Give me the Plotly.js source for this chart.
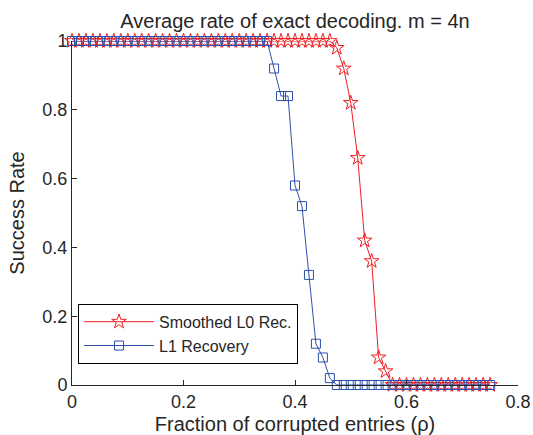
<!DOCTYPE html>
<html>
<head>
<meta charset="utf-8">
<script src="https://cdn.plot.ly/plotly-3.0.1.min.js"></script>
<style>html,body{margin:0;padding:0;background:#fff;}#chart{width:533px;height:435px;}</style>
</head>
<body>
<div id="chart"></div>
<script>
// Fraction of corrupted entries (rho)
var rho = [0, 0.0125, 0.025, 0.0375, 0.05, 0.0625, 0.075, 0.0875, 0.1, 0.1125,
  0.125, 0.1375, 0.15, 0.1625, 0.175, 0.1875, 0.2, 0.2125, 0.225, 0.2375,
  0.25, 0.2625, 0.275, 0.2875, 0.3, 0.3125, 0.325, 0.3375, 0.35, 0.3625,
  0.375, 0.3875, 0.4, 0.4125, 0.425, 0.4375, 0.45, 0.4625, 0.475, 0.4875,
  0.5, 0.5125, 0.525, 0.5375, 0.55, 0.5625, 0.575, 0.5875, 0.6, 0.6125,
  0.625, 0.6375, 0.65, 0.6625, 0.675, 0.6875, 0.7, 0.7125, 0.725, 0.7375, 0.75];

// Smoothed L0 recovery success rate
var smoothedL0 = [1, 1, 1, 1, 1, 1, 1, 1, 1, 1,
  1, 1, 1, 1, 1, 1, 1, 1, 1, 1,
  1, 1, 1, 1, 1, 1, 1, 1, 1, 1,
  1, 1, 1, 1, 1, 1, 1, 1, 0.98, 0.92,
  0.82, 0.66, 0.42, 0.36, 0.08, 0.04, 0, 0, 0, 0,
  0, 0, 0, 0, 0, 0, 0, 0, 0, 0, 0];

// L1 recovery success rate
var l1Recovery = [1, 1, 1, 1, 1, 1, 1, 1, 1, 1,
  1, 1, 1, 1, 1, 1, 1, 1, 1, 1,
  1, 1, 1, 1, 1, 1, 1, 1, 1, 0.92,
  0.84, 0.84, 0.58, 0.52, 0.32, 0.12, 0.08, 0.02, 0, 0,
  0, 0, 0, 0, 0, 0, 0, 0, 0, 0,
  0, 0, 0, 0, 0, 0, 0, 0, 0, 0, 0];

var seriesNames = ["Smoothed L0 Rec.", "L1 Recovery"];
var xTicks = [0, 0.2, 0.4, 0.6, 0.8];
var xTickText = ["0", "0.2", "0.4", "0.6", "0.8"];
var yTicks = [0, 0.2, 0.4, 0.6, 0.8, 1];
var yTickText = ["0", "0.2", "0.4", "0.6", "0.8", "1"];

var RED = "rgb(240,30,35)";
var BLUE = "rgb(45,80,170)";
var FONT = "Liberation Sans, Arial, Helvetica, sans-serif";
var INK = "#262626";

var traces = [
  {
    x: rho, y: smoothedL0, name: seriesNames[0], type: "scatter", mode: "lines+markers",
    cliponaxis: false, legendgroup: "a",
    line: {color: RED, width: 1},
    marker: {symbol: "star-open", size: 11, color: RED, line: {color: RED, width: 1}}
  },
  {
    x: rho, y: l1Recovery, name: seriesNames[1], type: "scatter", mode: "lines+markers",
    cliponaxis: false, legendgroup: "b",
    line: {color: BLUE, width: 1},
    marker: {symbol: "square-open", size: 9, color: BLUE, line: {color: BLUE, width: 1}}
  }
];

var layout = {
  width: 533, height: 435,
  margin: {l: 72, r: 15, t: 41, b: 50, pad: 0},
  paper_bgcolor: "#fff", plot_bgcolor: "#fff",
  font: {family: FONT, color: INK, size: 18},
  showlegend: true,
  title: {
    text: "Average rate of exact decoding. m = 4n",
    font: {family: FONT, size: 20, color: INK},
    xref: "paper", x: 0.5, xanchor: "center",
    yref: "container", y: 0.952, yanchor: "middle"
  },
  xaxis: {
    range: [0, 0.8], tickvals: xTicks, ticktext: xTickText,
    ticks: "inside", ticklen: 5, tickwidth: 1, tickcolor: INK,
    showline: true, linecolor: INK, linewidth: 1, mirror: false,
    showgrid: false, zeroline: false, fixedrange: true,
    tickfont: {family: FONT, size: 18, color: INK},
    title: {text: "Fraction of corrupted entries (\u03c1)", font: {family: FONT, size: 20, color: INK}, standoff: 12}
  },
  yaxis: {
    range: [0, 1], tickvals: yTicks, ticktext: yTickText,
    ticks: "inside", ticklen: 5, tickwidth: 1, tickcolor: INK,
    showline: true, linecolor: INK, linewidth: 1, mirror: false,
    showgrid: false, zeroline: false, fixedrange: true,
    tickfont: {family: FONT, size: 18, color: INK},
    title: {text: "Success Rate", font: {family: FONT, size: 20, color: INK}, standoff: 12}
  },
  legend: {
    x: 0.0135, y: 0.236, xanchor: "left", yanchor: "top",
    bgcolor: "#fff", bordercolor: "#000", borderwidth: 1,
    font: {family: FONT, size: 16, color: INK},
    traceorder: "grouped", tracegroupgap: 0,
    itemwidth: 70
  }
};

Plotly.newPlot("chart", traces, layout, {displayModeBar: false, staticPlot: true});
</script>
</body>
</html>
